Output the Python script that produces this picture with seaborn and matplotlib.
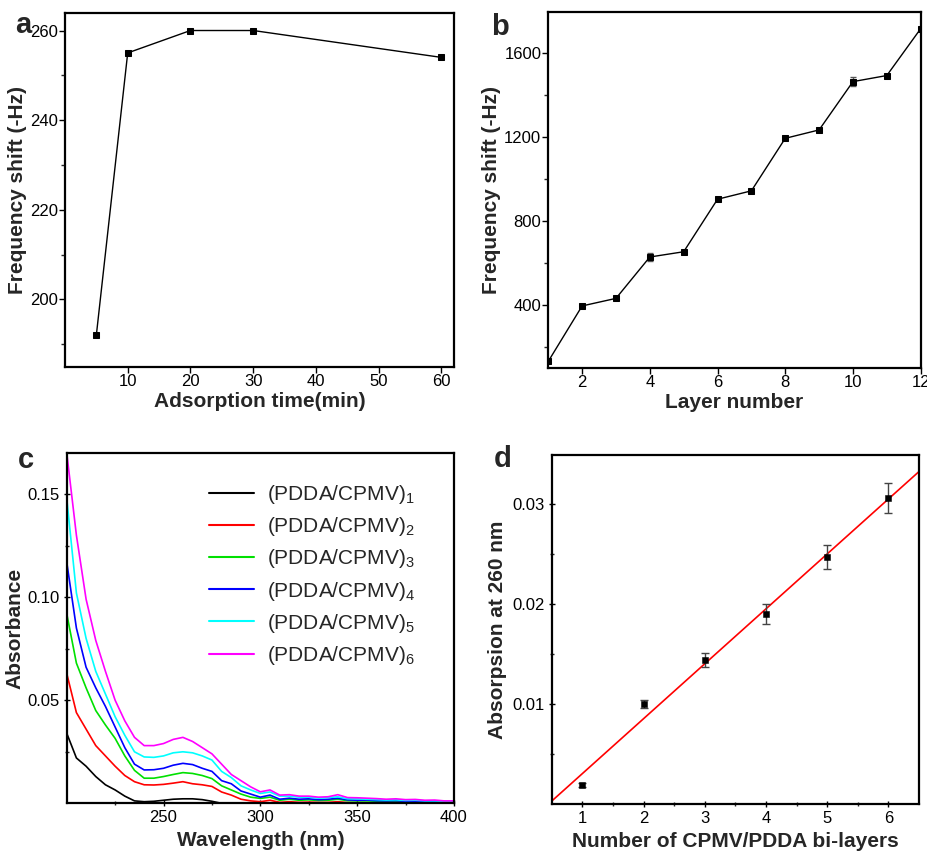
import numpy as np
import pandas as pd
import seaborn as sns
import matplotlib.pyplot as plt
from matplotlib.ticker import FixedLocator

# panel a
ads_time = [5, 10, 20, 30, 60]
ads_shift = [192, 255, 260, 260, 254]

# panel b
layer_no = [1, 2, 3, 4, 5, 6, 7, 8, 9, 10, 11, 12]
layer_shift = [133, 397, 433, 630, 655, 905, 945, 1195, 1235, 1465, 1494, 1717]
layer_err = [6, 10, 8, 20, 10, 8, 8, 8, 8, 20, 8, 10]

# panel c
wavelength = list(range(200, 401, 5))
spec_1 = [0.034, 0.022, 0.018, 0.013, 0.009, 0.0065, 0.0035, 0.0012, 0.0008, 0.001,
          0.0015, 0.002, 0.0022, 0.0022, 0.0018, 0.001, 0.0, 0.0, 0.0, 0.0,
          0.0, 0.0, 0.0, 0.0, 0.0, 0.0, 0.0, 0.0, 0.0, 0.0,
          0.0, 0.0, 0.0, 0.0, 0.0, 0.0, 0.0, 0.0, 0.0, 0.0, 0.0]
spec_2 = [0.063, 0.044, 0.036, 0.028, 0.023, 0.018, 0.0135, 0.0105, 0.009, 0.0089,
          0.0092, 0.0098, 0.0105, 0.0095, 0.009, 0.0082, 0.0055, 0.004, 0.002, 0.0012,
          0.0008, 0.0015, 0.0005, 0.0008, 0.0005, 0.0006, 0.0005, 0.0005, 0.0008, 0.0004,
          0.0004, 0.0004, 0.0003, 0.0003, 0.0004, 0.0003, 0.0003, 0.0003, 0.0003, 0.0003, 0.0003]
spec_3 = [0.092, 0.068, 0.056, 0.045, 0.038, 0.0315, 0.023, 0.016, 0.0122, 0.0122,
          0.013, 0.014, 0.0149, 0.0145, 0.0135, 0.012, 0.0085, 0.0065, 0.0045, 0.003,
          0.0024, 0.003, 0.0015, 0.002, 0.0015, 0.0017, 0.0014, 0.0015, 0.002, 0.0013,
          0.0012, 0.0012, 0.001, 0.001, 0.001, 0.0008, 0.0008, 0.0007, 0.0007, 0.0006, 0.0006]
spec_4 = [0.117, 0.085, 0.066, 0.056, 0.047, 0.037, 0.027, 0.019, 0.0162, 0.0163,
          0.017, 0.0185, 0.0194, 0.0188, 0.017, 0.0155, 0.011, 0.0095, 0.006, 0.0045,
          0.003, 0.004, 0.002, 0.0025, 0.002, 0.0022, 0.0018, 0.002, 0.0025, 0.0017,
          0.0015, 0.0016, 0.0013, 0.0012, 0.0013, 0.001, 0.001, 0.0009, 0.0008, 0.0008, 0.0007]
spec_5 = [0.148, 0.102, 0.080, 0.064, 0.053, 0.042, 0.033, 0.025, 0.0225, 0.0223,
          0.023, 0.0245, 0.025, 0.0245, 0.023, 0.021, 0.0155, 0.0125, 0.0085, 0.0065,
          0.0048, 0.0055, 0.0035, 0.0035, 0.003, 0.003, 0.0025, 0.0028, 0.0032, 0.0022,
          0.0022, 0.002, 0.0018, 0.0016, 0.0017, 0.0014, 0.0015, 0.0012, 0.0012, 0.001, 0.001]
spec_6 = [0.170, 0.130, 0.099, 0.079, 0.064, 0.050, 0.040, 0.032, 0.028, 0.028,
          0.029, 0.031, 0.032, 0.030, 0.027, 0.024, 0.019, 0.014, 0.011, 0.008,
          0.0056, 0.0065, 0.004, 0.0042, 0.0035, 0.0035, 0.003, 0.0032, 0.0042, 0.0028,
          0.0027, 0.0025, 0.0023, 0.002, 0.0022, 0.0018, 0.0019, 0.0015, 0.0016, 0.0012, 0.0012]
spec_labels = [r'(PDDA/CPMV)$_%d$' % i for i in range(1, 7)]
spec_colors = ['#000000', '#ff0000', '#00e000', '#0000ff', '#00ffff', '#ff00ff']

# panel d
bilayers = [1, 2, 3, 4, 5, 6]
abs260 = [0.0019, 0.0100, 0.0144, 0.0190, 0.0247, 0.0306]
abs260_err = [0.0002, 0.0004, 0.0007, 0.0010, 0.0012, 0.0015]

sns.set_style('ticks')
plt.rcParams['font.family'] = ['Liberation Sans', 'DejaVu Sans']
plt.rcParams['mathtext.default'] = 'regular'
plt.rcParams['axes.linewidth'] = 1.6

fig = plt.figure(figsize=(9.28, 8.52), dpi=100)
ax_a = fig.add_axes([0.0700, 0.5692, 0.4192, 0.4155])
ax_b = fig.add_axes([0.5908, 0.5677, 0.4013, 0.4186])
ax_c = fig.add_axes([0.0719, 0.0571, 0.4173, 0.4115])
ax_d = fig.add_axes([0.5945, 0.0563, 0.3958, 0.4097])

lab_kw = dict(fontsize=15, fontweight='bold')

def style(ax, direction, pad):
    for s in ax.spines.values():
        s.set_color('black')
        s.set_linewidth(1.6)
    ax.tick_params(which='major', direction=direction, length=4, width=1,
                   labelsize=12, colors='black', top=False, right=False, pad=pad)
    ax.tick_params(which='minor', direction=direction, length=3, width=1,
                   top=False, right=False)

# a
sns.lineplot(x=ads_time, y=ads_shift, ax=ax_a, color='black', marker='s',
             markersize=5, markeredgecolor='black', linewidth=1)
ax_a.set_xlim(0, 62)
ax_a.set_ylim(184.9, 263.9)
ax_a.set_xticks([10, 20, 30, 40, 50, 60])
ax_a.set_yticks([200, 220, 240, 260])
ax_a.yaxis.set_minor_locator(FixedLocator([190, 210, 230, 250]))
ax_a.set_xlabel('Adsorption time(min)', labelpad=2, **lab_kw)
ax_a.set_ylabel('Frequency shift (-Hz)', labelpad=2, **lab_kw)
style(ax_a, 'out', 1)

# b
ax_b.errorbar(layer_no, layer_shift, yerr=layer_err, fmt='none', ecolor='#555555',
              elinewidth=1, capsize=2)
sns.lineplot(x=layer_no, y=layer_shift, ax=ax_b, color='black', marker='s',
             markersize=5, markeredgecolor='black', linewidth=1)
ax_b.set_xlim(1, 12)
ax_b.set_ylim(100, 1798)
ax_b.set_xticks([2, 4, 6, 8, 10, 12])
ax_b.set_yticks([400, 800, 1200, 1600])
ax_b.yaxis.set_minor_locator(FixedLocator([200, 600, 1000, 1400]))
ax_b.set_xlabel('Layer number', labelpad=2, **lab_kw)
ax_b.set_ylabel('Frequency shift (-Hz)', labelpad=2, **lab_kw)
style(ax_b, 'out', 1)

# c
spec_df = pd.DataFrame({'wl': wavelength * 6,
                        'A': spec_1 + spec_2 + spec_3 + spec_4 + spec_5 + spec_6,
                        'layer': sum([[l] * len(wavelength) for l in spec_labels], [])})
sns.lineplot(data=spec_df, x='wl', y='A', hue='layer', palette=spec_colors,
             ax=ax_c, linewidth=1.2)
ax_c.set_xlim(200, 400)
ax_c.set_ylim(0, 0.17)
ax_c.set_xticks([250, 300, 350, 400])
ax_c.set_yticks([0.05, 0.10, 0.15])
ax_c.set_yticklabels(['0.05', '0.10', '0.15'])
ax_c.xaxis.set_minor_locator(FixedLocator([225, 275, 325, 375]))
ax_c.yaxis.set_minor_locator(FixedLocator([0.025, 0.075, 0.125]))
ax_c.set_xlabel('Wavelength (nm)', **lab_kw)
ax_c.set_ylabel('Absorbance', labelpad=2, **lab_kw)
leg = ax_c.legend(title=None, frameon=False, fontsize=15, loc='upper left',
                  bbox_to_anchor=(0.318, 0.967), handlelength=2.2, labelspacing=0.44,
                  handletextpad=0.6)
for h in leg.get_lines():
    h.set_linewidth(1.5)
style(ax_c, 'inout', 3)

# d
ax_d.set_xlim(0.5, 6.5)
ax_d.set_ylim(0, 0.0349)
sns.regplot(x=bilayers, y=abs260, ax=ax_d, ci=None, scatter=False, truncate=False,
            color='red', line_kws=dict(linewidth=1.2))
ax_d.errorbar(bilayers, abs260, yerr=abs260_err, fmt='none', ecolor='#444444',
              elinewidth=1, capsize=3)
sns.scatterplot(x=bilayers, y=abs260, ax=ax_d, marker='s', s=22, color='black',
                edgecolor='black', zorder=3)
ax_d.set_xlim(0.5, 6.5)
ax_d.set_ylim(0, 0.0349)
ax_d.set_xticks([1, 2, 3, 4, 5, 6])
ax_d.set_yticks([0.01, 0.02, 0.03])
ax_d.xaxis.set_minor_locator(FixedLocator([1.5, 2.5, 3.5, 4.5, 5.5]))
ax_d.yaxis.set_minor_locator(FixedLocator([0.005, 0.015, 0.025]))
ax_d.set_xlabel('Number of CPMV/PDDA bi-layers', **lab_kw)
ax_d.set_ylabel('Absorpsion at 260 nm', **lab_kw)
style(ax_d, 'inout', 3)

# panel letters
for txt, x, y in [('a', 15, 33), ('b', 491, 35), ('c', 18.3, 467.7), ('d', 494, 466.7)]:
    fig.text(x / 928, 1 - y / 852, txt, fontsize=21, fontweight='bold',
             ha='left', va='baseline')

fig.savefig('out.png', dpi=100)
